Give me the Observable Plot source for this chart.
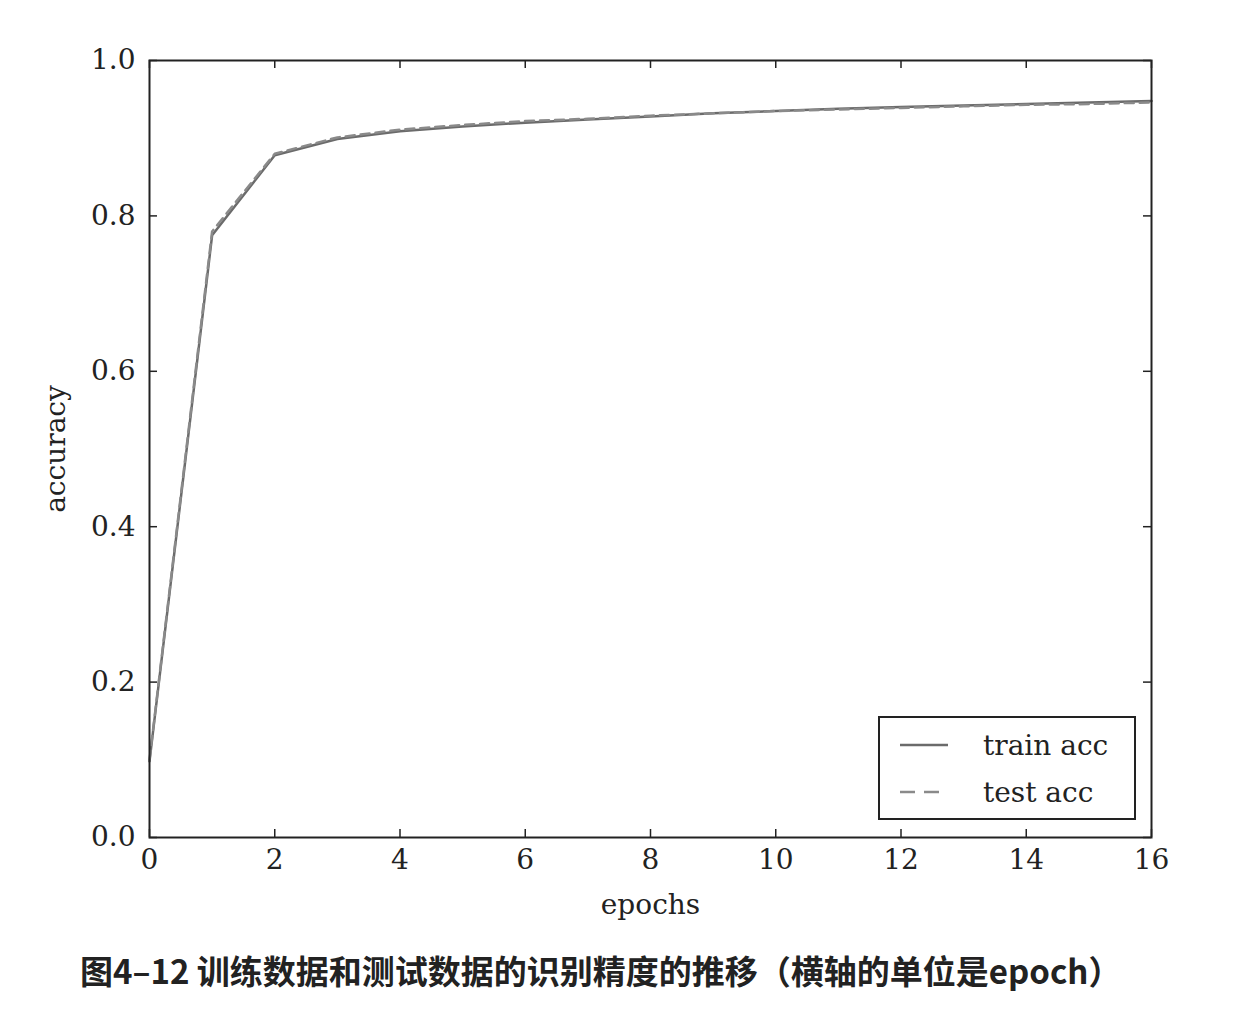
<!DOCTYPE html>
<html>
<head>
<meta charset="utf-8">
<script src="https://cdn.jsdelivr.net/npm/d3@7"></script>
<script src="https://cdn.jsdelivr.net/npm/@observablehq/plot@0.6"></script>
<style>
  body { margin: 0; background: #fff; }
  #wrap { position: relative; width: 1240px; height: 1024px; }
  #legend { position: absolute; left: 878px; top: 716px; width: 254px; height: 100px; border: 2px solid #222; background: #fff;
            font-family: "DejaVu Serif", serif; font-size: 28px; color: #222; }
  #caption { position: absolute; left: 80px; top: 946px; font-family: "Noto Sans CJK SC", sans-serif; font-weight: bold; font-size: 33px; color: #222; white-space: nowrap; }
</style>
</head>
<body>
<div id="wrap">
  <div id="chart"></div>
  <div id="legend"></div>
  <div id="caption"></div>
</div>
<script>
const epochs = [0,1,2,3,4,5,6,7,8,9,10,11,12,13,14,15,16];
const trainAcc = [0.098,0.775,0.878,0.899,0.909,0.915,0.920,0.924,0.928,0.932,0.935,0.938,0.940,0.942,0.944,0.946,0.948];
const testAcc  = [0.100,0.780,0.880,0.901,0.911,0.917,0.922,0.925,0.929,0.932,0.935,0.937,0.939,0.941,0.943,0.944,0.946];
const xTicks = [0,2,4,6,8,10,12,14,16];
const yTicks = [0.0,0.2,0.4,0.6,0.8,1.0];
const seriesNames = ["train acc", "test acc"];
const captionText = "图4–12 训练数据和测试数据的识别精度的推移（横轴的单位是epoch）";

const train = epochs.map((e,i) => ({epoch: e, acc: trainAcc[i]}));
const test = epochs.map((e,i) => ({epoch: e, acc: testAcc[i]}));

const W = 1240, H = 930, mL = 149, mR = 89, mT = 60, mB = 93;
const tickPx = 8;
const tx = tickPx / (H - mT - mB);
const ty = tickPx * 16 / (W - mL - mR);
const lineColor = "#6b6b6b";

const chart = Plot.plot({
  width: W, height: H,
  marginLeft: mL, marginRight: mR, marginTop: mT, marginBottom: mB,
  style: {fontFamily: "'DejaVu Serif', serif", fontSize: "28px", color: "#222", background: "#fff"},
  x: {domain: [0,16]},
  y: {domain: [0,1]},
  marks: [
    Plot.line(train, {x: "epoch", y: "acc", stroke: lineColor, strokeWidth: 2.5}),
    Plot.line(test, {x: "epoch", y: "acc", stroke: "#8a8a8a", strokeWidth: 2.5, strokeDasharray: "9,6"}),
    Plot.ruleX(xTicks, {x: d => d, y1: 0, y2: tx, stroke: "#222", strokeWidth: 1.5}),
    Plot.ruleX(xTicks, {x: d => d, y1: 1 - tx, y2: 1, stroke: "#222", strokeWidth: 1.5}),
    Plot.ruleY(yTicks, {y: d => d, x1: 0, x2: ty, stroke: "#222", strokeWidth: 1.5}),
    Plot.ruleY(yTicks, {y: d => d, x1: 16 - ty, x2: 16, stroke: "#222", strokeWidth: 1.5}),
    Plot.axisX(xTicks, {tickSize: 0, tickPadding: 12, fontSize: 28, label: "epochs", labelAnchor: "center", labelArrow: "none", labelOffset: 76, tickFormat: d => String(d)}),
    Plot.axisY(yTicks, {tickSize: 0, tickPadding: 14, fontSize: 28, label: "accuracy", labelAnchor: "center", labelOffset: 104, labelArrow: "none", tickFormat: d => d.toFixed(1)}),
    Plot.frame({stroke: "#222", strokeWidth: 2})
  ]
});
document.getElementById("chart").appendChild(chart);

const lg = d3.select("#legend").append("svg").attr("width", 254).attr("height", 100)
  .style("font-family", "'DejaVu Serif', serif").style("font-size", "28px");
seriesNames.forEach((name, i) => {
  const y = 27 + i * 47;
  lg.append("line").attr("x1", 20).attr("x2", 68).attr("y1", y).attr("y2", y)
    .attr("stroke", i === 0 ? lineColor : "#8a8a8a").attr("stroke-width", 2.5)
    .attr("stroke-dasharray", i === 0 ? null : "15,9");
  lg.append("text").attr("x", 103).attr("y", y + 10).attr("fill", "#222").text(name);
});
document.getElementById("caption").textContent = captionText;
</script>
</body>
</html>
